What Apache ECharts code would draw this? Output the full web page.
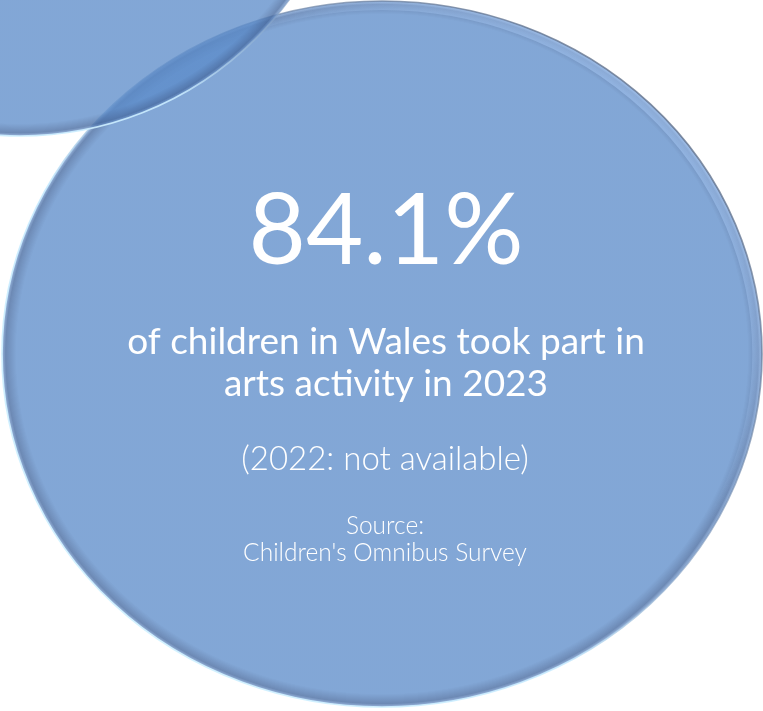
<!DOCTYPE html>
<html>
<head>
<meta charset="utf-8">
<script src="https://cdn.jsdelivr.net/npm/echarts@6/dist/echarts.min.js"></script>
<style>
html,body{margin:0;padding:0;background:#fff;}
#chart{width:763px;height:711px;}
</style>
</head>
<body>
<div id="chart"></div>
<script>
// ---- data ----
const headlineValue = [84.1];
const headlineUnit = ['%'];
const descriptionLines = ['of children in Wales took part in', 'arts activity in 2023'];
const comparisonText = ['(2022: not available)'];
const sourceLines = ['Source:', "Children's Omnibus Survey"];

const chart = echarts.init(document.getElementById('chart'), null, {renderer: 'canvas'});

function bubble(cx, cy, r, sx) {
  const fill = {
    type: 'radial', x: 0.5, y: 0.5, r: 0.5,
    colorStops: [
      {offset: 0, color: 'rgba(91,139,201,0.76)'},
      {offset: 0.96, color: 'rgba(91,139,201,0.76)'},
      {offset: 0.988, color: 'rgba(72,108,162,0.80)'},
      {offset: 1, color: 'rgba(120,160,215,0.70)'}
    ]
  };
  const rim = {
    type: 'linear', x: 1, y: 0, x2: 0, y2: 1,
    colorStops: [
      {offset: 0, color: 'rgba(80,90,110,0.85)'},
      {offset: 0.45, color: 'rgba(120,150,190,0.6)'},
      {offset: 0.6, color: 'rgba(200,235,255,0.9)'},
      {offset: 1, color: 'rgba(215,245,255,1)'}
    ]
  };
  const inner = {
    type: 'linear', x: 1, y: 0, x2: 0, y2: 1,
    colorStops: [
      {offset: 0, color: 'rgba(175,210,255,0.75)'},
      {offset: 0.4, color: 'rgba(175,210,255,0.0)'},
      {offset: 1, color: 'rgba(175,210,255,0.0)'}
    ]
  };
  return {
    type: 'group', x: cx, y: cy, scaleX: sx, scaleY: 1,
    children: [
      {type: 'circle', shape: {cx: 0, cy: 0, r: r}, style: {fill: fill, stroke: rim, lineWidth: 1.6}},
      {type: 'circle', shape: {cx: 0, cy: 0, r: r - 5}, style: {fill: 'none', stroke: inner, lineWidth: 8}, silent: true}
    ]
  };
}

const textColor = '#ffffff';
const fam = 'Lato, "Noto Sans", sans-serif';

chart.setOption({
  animation: false,
  graphic: [
    bubble(382, 354, 353, 380 / 353),
    bubble(20, -198, 334, 1),
    {type: 'text', x: 386, y: 232, style: {text: headlineValue[0].toFixed(1) + headlineUnit[0], fill: textColor, font: '99px ' + fam, align: 'center', verticalAlign: 'middle'}},
    {type: 'text', x: 386, y: 342, style: {text: descriptionLines[0], fill: textColor, font: '37px ' + fam, align: 'center', verticalAlign: 'middle'}},
    {type: 'text', x: 386, y: 384, style: {text: descriptionLines[1], fill: textColor, font: '37px ' + fam, align: 'center', verticalAlign: 'middle'}},
    {type: 'text', x: 385, y: 459, style: {text: comparisonText[0], fill: textColor, font: '300 33px ' + fam, align: 'center', verticalAlign: 'middle'}},
    {type: 'text', x: 385, y: 526, style: {text: sourceLines[0], fill: textColor, font: '300 24.5px ' + fam, align: 'center', verticalAlign: 'middle'}},
    {type: 'text', x: 385, y: 553, style: {text: sourceLines[1], fill: textColor, font: '300 24.5px ' + fam, align: 'center', verticalAlign: 'middle'}}
  ]
});
</script>
</body>
</html>
